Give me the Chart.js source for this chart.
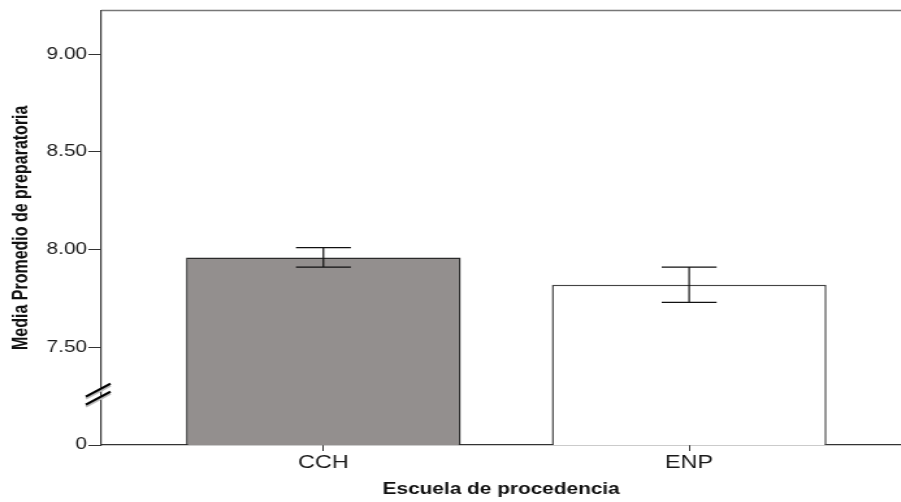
<!DOCTYPE html>
<html>
<head>
<meta charset="utf-8">
<script src="https://cdn.jsdelivr.net/npm/chart.js@4.4.1/dist/chart.umd.min.js"></script>
<style>
  html, body { margin: 0; padding: 0; background: #fff; overflow: hidden; }
  #wrap { width: 901px; height: 502px; overflow: hidden; }
  /* the original picture is stretched horizontally */
  #chart { transform: scaleX(1.3); transform-origin: 0 0; }
</style>
</head>
<body>
<div id="wrap"><canvas id="chart" width="693" height="502"></canvas></div>
<script>
const categories = ['CCH', 'ENP'];
const means = [7.96, 7.82];
const ciLow = [7.91, 7.73];
const ciHigh = [8.01, 7.91];
const yTicks = [7.0, 7.5, 8.0, 8.5, 9.0];
const yTickLabels = ['0', '7.50', '8.00', '8.50', '9.00'];
const breakAt = 7.26;

const errorBars = {
    id: 'errorBars',
    afterDatasetsDraw(chart) {
        const c = chart.ctx;
        const xs = chart.scales.x, ys = chart.scales.y;
        const meta = chart.getDatasetMeta(0);
        c.save();
        c.strokeStyle = '#111';
        c.lineWidth = 1.2;
        categories.forEach(function(cat, i) {
            const x = xs.getPixelForValue(i + 1);
            const half = meta.data[i].width * 0.1;
            const top = ys.getPixelForValue(ciHigh[i]);
            const bot = ys.getPixelForValue(ciLow[i]);
            c.beginPath();
            c.moveTo(x, top); c.lineTo(x, bot);
            c.moveTo(x - half, top); c.lineTo(x + half, top);
            c.moveTo(x - half, bot); c.lineTo(x + half, bot);
            c.stroke();
        });
        c.restore();
    },
    afterDraw(chart) {
        const c = chart.ctx;
        const a = chart.chartArea;
        const y = chart.scales.y.getPixelForValue(breakAt);
        c.save();
        // top frame line
        c.strokeStyle = '#777';
        c.lineWidth = 1.5;
        c.beginPath();
        c.moveTo(a.left, a.top); c.lineTo(a.right, a.top);
        c.stroke();
        // axis break marks
        [-4, 4].forEach(function(d) {
            c.strokeStyle = '#bbb';
            c.lineWidth = 2;
            c.beginPath();
            c.moveTo(a.left - 12, y + d + 8.5); c.lineTo(a.left + 7, y + d - 4.5);
            c.stroke();
            c.strokeStyle = '#000';
            c.beginPath();
            c.moveTo(a.left - 12, y + d + 6.5); c.lineTo(a.left + 7, y + d - 6.5);
            c.stroke();
        });
        c.restore();
    }
};

new Chart(document.getElementById('chart'), {
    type: 'bar',
    data: {
        datasets: [{
            data: means.map(function(v, i) { return { x: i + 1, y: v }; }),
            backgroundColor: ['#938f8e', '#ffffff'],
            borderColor: ['#2a2a2a', '#444444'],
            borderWidth: 1.5,
            categoryPercentage: 1,
            barPercentage: 0.751
        }]
    },
    options: {
        responsive: false,
        animation: false,
        devicePixelRatio: 1,
        layout: { padding: { top: 6, left: 0, right: 0, bottom: 0 } },
        plugins: { legend: { display: false }, tooltip: { enabled: false } },
        scales: {
            x: {
                type: 'linear',
                offset: false,
                min: 0.393,
                max: 2.579,
                afterBuildTicks: function(scale) {
                    scale.ticks = categories.map(function(c, i) { return { value: i + 1 }; });
                },
                afterFit: function(scale) { scale.height = 57; },
                ticks: {
                    callback: function(v, i) { return categories[i]; },
                    color: '#1a1a1a',
                    padding: 1,
                    font: { family: 'Liberation Sans', size: 18 }
                },
                grid: { offset: false, drawOnChartArea: false, tickLength: 6, tickColor: '#333' },
                border: { color: '#333', width: 1.2 },
                title: {
                    display: true,
                    text: 'Escuela de procedencia',
                    color: '#111',
                    padding: { top: 0, bottom: 2.4 },
                    font: { family: 'Liberation Sans', size: 16, weight: 'bold' }
                }
            },
            y: {
                min: 7.0,
                max: 9.2228,
                afterBuildTicks: function(scale) {
                    scale.ticks = yTicks.map(function(v) { return { value: v }; });
                },
                afterFit: function(scale) { scale.width = 78; },
                ticks: {
                    callback: function(v, i) { return yTickLabels[i]; },
                    color: '#1a1a1a',
                    padding: 1,
                    font: { family: 'Liberation Sans', size: 16 }
                },
                grid: { drawOnChartArea: false, tickLength: 10, tickColor: '#333' },
                border: { color: '#333', width: 1.2 },
                title: {
                    display: true,
                    text: 'Media Promedio de preparatoria',
                    color: '#111',
                    padding: { top: 7, bottom: 0 },
                    font: { family: 'Liberation Sans', size: 16, weight: 'bold' }
                }
            }
        }
    },
    plugins: [errorBars]
});
</script>
</body>
</html>
